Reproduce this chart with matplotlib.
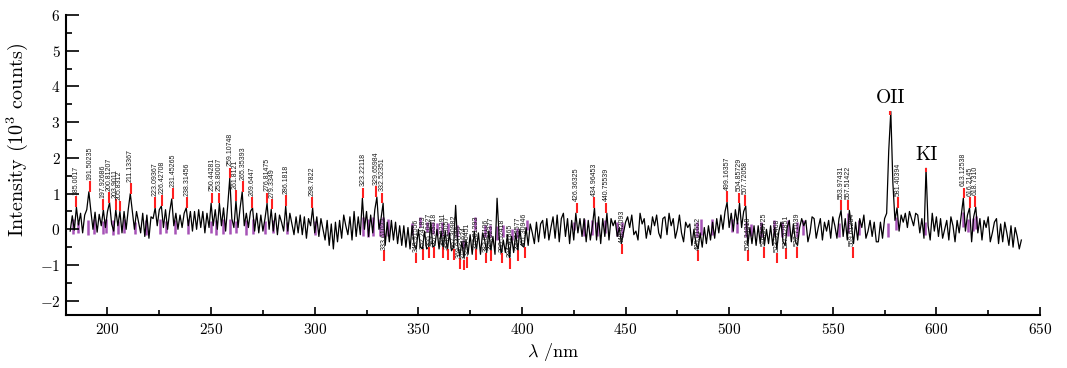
import matplotlib
matplotlib.use("Agg")
import matplotlib.pyplot as plt
import numpy as np
from matplotlib.ticker import MultipleLocator

# ---------------- data ----------------
wl_start = 182  # nm, 1 nm sampling
intensity = [
    -0.05, 0.38, -0.02, 0.62, 0.12, 0.45, -0.10, 0.40, 0.55, 1.05,   # 182-191
    0.50, 0.00, 0.48, -0.08, 0.42, 0.10, 0.55, 0.05, 0.50, 0.75,     # 192-201
    0.15, -0.05, 0.55, 0.10, 0.50, -0.10, 0.50, 0.00, 0.55, 1.00,    # 202-211
    0.50, 0.00, 0.50, 0.20, -0.10, 0.45, -0.20, 0.40, -0.25, 0.35,   # 212-221
    0.30, 0.60, 0.10, 0.55, 0.65, 0.05, 0.55, 0.00, 0.50, 0.85,      # 222-231
    0.10, 0.45, 0.00, 0.40, 0.05, 0.45, 0.60, 0.10, 0.50, -0.05,     # 232-241
    0.50, 0.00, 0.55, 0.05, 0.50, -0.10, 0.45, 0.05, 0.73, 0.10,     # 242-251
    0.55, 0.00, 0.73, 0.10, 0.60, -0.05, 0.65, 1.43, 0.30, 0.05,     # 252-261
    0.80, 0.05, 0.60, 1.05, 0.10, 0.45, 0.05, 0.50, 0.60, -0.05,     # 262-271
    0.45, -0.10, 0.40, -0.05, 0.30, 0.73, 0.00, 0.56, -0.05, 0.45,   # 272-281
    -0.15, 0.40, 0.20, -0.05, 0.65, -0.05, 0.45, 0.15, -0.15, 0.35,  # 282-291
    -0.10, 0.40, -0.15, 0.35, -0.25, 0.30, 0.10, 0.60, -0.10, 0.35,  # 292-301
    -0.20, 0.30, 0.00, -0.30, 0.25, -0.45, 0.15, -0.55, 0.20, -0.35, # 302-311
    0.25, -0.25, 0.40, 0.10, -0.15, 0.35, -0.30, 0.50, -0.20, 0.35,  # 312-321
    -0.15, 0.87, 0.00, 0.50, -0.20, 0.40, -0.10, 0.55, 0.90, 0.00,   # 322-331
    0.30, 0.73, -0.45, 0.20, -0.35, 0.25, -0.30, 0.20, -0.40, 0.10,  # 332-341
    -0.45, 0.10, -0.50, 0.05, -0.55, 0.10, -0.45, -0.55, 0.00, -0.50,    # 342-351
    -0.55, -0.05, -0.55, -0.50, 0.20, -0.50, -0.45, 0.00, -0.55, -0.05,  # 352-361
    -0.55, -0.05, -0.60, -0.10, -0.60, -0.50, 0.67, -0.45, -0.75, -0.35, # 362-371
    -0.80, -0.30, -0.70, -0.15, -0.70, -0.05, -0.60, -0.10, -0.70, -0.10,# 372-381
    -0.30, -0.65, -0.05, -0.60, -0.20, -0.70, 0.87, -0.20, -0.70, -0.30, # 382-391
    -0.65, -0.15, -0.80, -0.20, -0.65, -0.10, -0.60, 0.00, -0.45, -0.50, # 392-401
    0.05, -0.45, 0.15, -0.10, -0.40, 0.20, -0.35, 0.15, 0.25, -0.25,     # 402-411
    0.30, -0.30, 0.05, 0.35, -0.25, 0.40, -0.35, 0.30, 0.45, -0.20,      # 412-421
    0.30, -0.40, 0.25, -0.30, 0.45, -0.10, 0.30, -0.20, 0.30, -0.35,     # 422-431
    0.25, -0.30, 0.10, 0.60, -0.30, 0.35, -0.40, 0.30, -0.20, 0.45,      # 432-441
    -0.30, 0.30, 0.10, 0.25, -0.20, 0.05, -0.40, -0.10, 0.20, 0.35,      # 442-451
    0.05, 0.40, -0.15, -0.05, -0.30, 0.45, 0.15, 0.30, -0.25, 0.10,      # 452-461
    -0.15, 0.35, 0.10, 0.40, -0.10, -0.25, 0.30, 0.35, -0.15, 0.45,      # 462-471
    0.10, 0.30, -0.25, 0.00, 0.40, -0.10, -0.35, 0.20, 0.05, 0.15,       # 472-481
    -0.45, 0.00, -0.40, -0.55, -0.10, -0.50, 0.05, -0.40, 0.10, -0.30,   # 482-491
    0.20, -0.25, 0.30, -0.10, 0.40, 0.00, 0.50, 0.76, 0.05, 0.45,        # 492-501
    -0.05, 0.55, 0.15, 0.73, 0.05, 0.50, 0.65, -0.45, 0.05, -0.40,       # 502-511
    0.10, -0.45, 0.10, -0.40, 0.15, -0.45, 0.00, -0.40, 0.10, -0.45,     # 512-521
    0.05, -0.55, -0.05, 0.20, -0.35, -0.45, 0.05, 0.25, -0.35, 0.15,     # 522-531
    -0.35, -0.45, 0.05, 0.30, 0.10, 0.25, -0.35, -0.10, 0.35, 0.30,      # 532-541
    -0.25, 0.05, 0.30, -0.30, 0.20, -0.05, 0.25, -0.25, 0.35, 0.10,      # 542-551
    -0.25, 0.30, 0.53, -0.20, 0.30, -0.30, 0.53, 0.10, -0.40, 0.20,      # 552-561
    -0.30, 0.30, 0.05, 0.40, -0.25, -0.05, 0.25, -0.20, 0.20, -0.35,     # 562-571
    -0.35, 0.20, -0.25, 0.30, 0.45, 2.20, 3.30, 1.30, 0.25, 0.60,        # 572-581
    -0.05, 0.40, 0.20, 0.45, 0.05, 0.50, 0.30, 0.10, 0.45, 0.40,         # 582-591
    -0.10, 0.30, -0.25, 1.71, 0.10, -0.30, 0.45, -0.05, 0.35, -0.20,     # 592-601
    0.30, -0.25, 0.00, 0.25, -0.30, 0.35, 0.10, -0.35, 0.25, -0.10,      # 602-611
    0.40, 0.87, -0.05, 0.40, 0.60, -0.35, 0.35, 0.62, -0.10, 0.30,       # 612-621
    -0.30, 0.25, 0.05, 0.35, -0.35, -0.10, 0.20, 0.30, -0.40, 0.15,      # 622-631
    -0.35, 0.20, -0.10, -0.45, 0.10, -0.50, 0.05, -0.20, -0.55, -0.30,   # 632-641
]
wavelength = wl_start + np.arange(len(intensity))

# identified emission peaks (label text = wavelength) and peak heights
pos_labels = ["185.0017", "191.50235", "197.92686", "200.81207", "203.9011",
              "205.8312", "211.13367", "223.09367", "226.42708", "231.45265",
              "238.31456", "250.44281", "253.80007", "259.10748", "261.8121",
              "265.35393", "269.6447", "276.81475", "279.3349", "286.1818",
              "298.7822", "323.22118", "329.65984", "332.52351", "426.36325",
              "434.96453", "440.75539", "499.16357", "504.85729", "507.72058",
              "553.97431", "557.51422", "581.40394", "613.12538", "616.2145",
              "618.7310"]
pos_heights = [0.62, 1.05, 0.55, 0.75, 0.55, 0.50, 1.00, 0.60, 0.65, 0.85,
               0.60, 0.73, 0.73, 1.43, 0.80, 1.05, 0.60, 0.73, 0.56, 0.65,
               0.60, 0.87, 0.90, 0.73, 0.45, 0.60, 0.45, 0.76, 0.73, 0.65,
               0.53, 0.53, 0.60, 0.87, 0.60, 0.62]

# identified dips (label text = wavelength) and marker tops
neg_labels = ["333.61022", "348.91556", "352.24183", "355.10427", "357.63518",
              "361.82291", "364.13057", "367.30982", "369.94735", "372.11624",
              "373.70451", "377.81293", "382.84106", "385.02377", "390.52418",
              "394.41865", "398.13577", "401.30946", "448.42093", "485.01652",
              "509.24318", "516.93725", "523.31468", "527.42851", "532.71039",
              "559.61284"]
neg_tops = [-0.59, -0.65, -0.56, -0.50, -0.50, -0.50, -0.56, -0.55, -0.81, -0.85,
            -0.78, -0.56, -0.65, -0.59, -0.65, -0.80, -0.59, -0.50, -0.40, -0.59,
            -0.59, -0.50, -0.65, -0.53, -0.50, -0.50]

# reference line sticks (purple)
purple_wl = [183.2, 185.6, 190.5, 193.7, 197.7, 199.4, 202.6, 205.0, 208.2, 213.1,
             218.7, 225.1, 228.4, 232.4, 238.8, 250.1, 252.5, 255.7, 258.9, 262.2,
             267.0, 270.2, 275.8, 279.9, 286.4, 300.1, 323.5, 325.9, 328.3, 331.5,
             333.1, 335.5, 346.8, 350.8, 354.1, 357.2, 358.9, 361.3, 364.5, 368.5,
             371.7, 377.4, 382.2, 384.6, 387.9, 391.1, 395.1, 397.5, 402.4, 425.0,
             429.8, 433.9, 436.2, 440.3, 445.9, 448.4, 484.6, 486.3, 491.9, 501.6,
             504.0, 508.0, 510.4, 515.3, 521.7, 525.7, 528.2, 532.7, 535.4, 553.1,
             557.2, 562.8, 576.5, 580.6, 594.3, 612.8, 615.2, 617.6, 619.2]
purple_lo = [-0.14, -0.10, -0.15, -0.12, -0.14, -0.10, -0.15, -0.12, -0.10, -0.14,
             -0.15, -0.12, -0.10, -0.14, -0.12, -0.10, -0.15, -0.12, -0.14, -0.10,
             -0.15, -0.12, -0.14, -0.10, -0.12, -0.15, -0.20, -0.22, -0.18, -0.20,
             -0.22, -0.18, -0.17, 0.06, -0.08, -0.12, -0.15, -0.18, -0.15, -0.22,
             -0.55, -0.03, -0.22, -0.22, -0.30, -0.22, -0.30, -0.25, -0.03, -0.03,
             -0.20, -0.15, -0.20, -0.10, -0.20, -0.22, -0.22, -0.15, -0.15, -0.08,
             -0.10, -0.22, -0.20, -0.22, -0.20, -0.22, -0.20, -0.22, -0.15, -0.22,
             -0.10, -0.15, -0.22, -0.03, -0.15, 0.06, -0.08, -0.05, 0.00]
purple_hi = [0.28, 0.20, 0.25, 0.28, 0.22, 0.28, 0.25, 0.22, 0.28, 0.20,
             0.25, 0.28, 0.22, 0.25, 0.28, 0.22, 0.25, 0.28, 0.30, 0.22,
             0.25, 0.28, 0.22, 0.25, 0.20, 0.22, 0.34, 0.30, 0.34, 0.30,
             0.34, 0.30, 0.17, 0.34, 0.20, 0.20, 0.18, 0.20, 0.18, 0.11,
             -0.30, 0.34, 0.11, 0.11, 0.10, 0.11, 0.00, 0.05, 0.25, 0.20,
             0.30, 0.25, 0.20, 0.25, 0.20, 0.20, 0.20, 0.28, 0.30, 0.30,
             0.20, 0.20, 0.15, 0.20, 0.25, 0.20, 0.25, 0.20, 0.25, 0.17,
             0.45, 0.25, 0.17, 0.34, 0.20, 0.48, 0.30, 0.32, 0.38]

species = ["OII", "KI"]
species_wl = [577.8, 595.1]
species_peak = [3.30, 1.71]

x_ticks = [200, 250, 300, 350, 400, 450, 500, 550, 600, 650]
y_ticks = [-2, -1, 0, 1, 2, 3, 4, 5, 6]

# ---------------- style ----------------
plt.rcParams["font.family"] = "serif"
plt.rcParams["font.serif"] = ["cmr10"]
plt.rcParams["mathtext.fontset"] = "cm"
plt.rcParams["axes.formatter.use_mathtext"] = True

RED = "#ff1f1f"
PURPLE = "#a653b6"

fig = plt.figure(figsize=(10.67, 3.68), dpi=100)
ax = fig.add_axes([0.0619, 0.144, 0.9128, 0.815])

ax.vlines(purple_wl, purple_lo, purple_hi, color=PURPLE, lw=1.8, zorder=1)
ax.plot(wavelength, intensity, color="black", lw=0.9, zorder=2)

lab_kw = dict(rotation=90, ha="center", fontsize=5.0, family="Liberation Sans",
              color="#1a1a1a", zorder=4)

pos_wl = [float(s) for s in pos_labels]
ax.vlines(pos_wl, np.array(pos_heights), np.array(pos_heights) + 0.30,
          color=RED, lw=1.5, zorder=3)
for s, x, h in zip(pos_labels, pos_wl, pos_heights):
    ax.text(x, h + 0.33, s, va="bottom", **lab_kw)

neg_wl = [float(s) for s in neg_labels]
ax.vlines(neg_wl, np.array(neg_tops) - 0.30, np.array(neg_tops),
          color=RED, lw=1.5, zorder=3)
for s, x, t in zip(neg_labels, neg_wl, neg_tops):
    ax.text(x, t + 0.02, s, va="bottom", **lab_kw)

ax.vlines(species_wl, np.array(species_peak) - 0.1, np.array(species_peak),
          color=RED, lw=1.5, zorder=3)
for s, x, h in zip(species, species_wl, species_peak):
    ax.text(x, h + 0.12, s, ha="center", va="bottom", fontsize=14)

ax.set_xlim(180, 650)
ax.set_ylim(-2.4, 6)
ax.set_xticks(x_ticks)
ax.set_yticks(y_ticks)
ax.xaxis.set_minor_locator(MultipleLocator(25))
ax.yaxis.set_minor_locator(MultipleLocator(0.5))
ax.tick_params(which="both", direction="in", top=False, right=False,
               labelsize=11, width=1.2)
ax.tick_params(axis="y", which="major", length=9, pad=4)
ax.tick_params(axis="y", which="minor", length=4.5)
ax.tick_params(axis="x", which="major", length=6, pad=5)
ax.tick_params(axis="x", which="minor", length=3.5)
for side in ("top", "right"):
    ax.spines[side].set_visible(False)
for side in ("left", "bottom"):
    ax.spines[side].set_linewidth(1.5)

ax.set_xlabel(r"$\lambda$ /nm", fontsize=13, labelpad=3)
ax.set_ylabel(r"Intensity (10$^3$ counts)", fontsize=14.5)
ax.yaxis.set_label_coords(-0.037, 0.585)

fig.savefig("out.png", dpi=100)
